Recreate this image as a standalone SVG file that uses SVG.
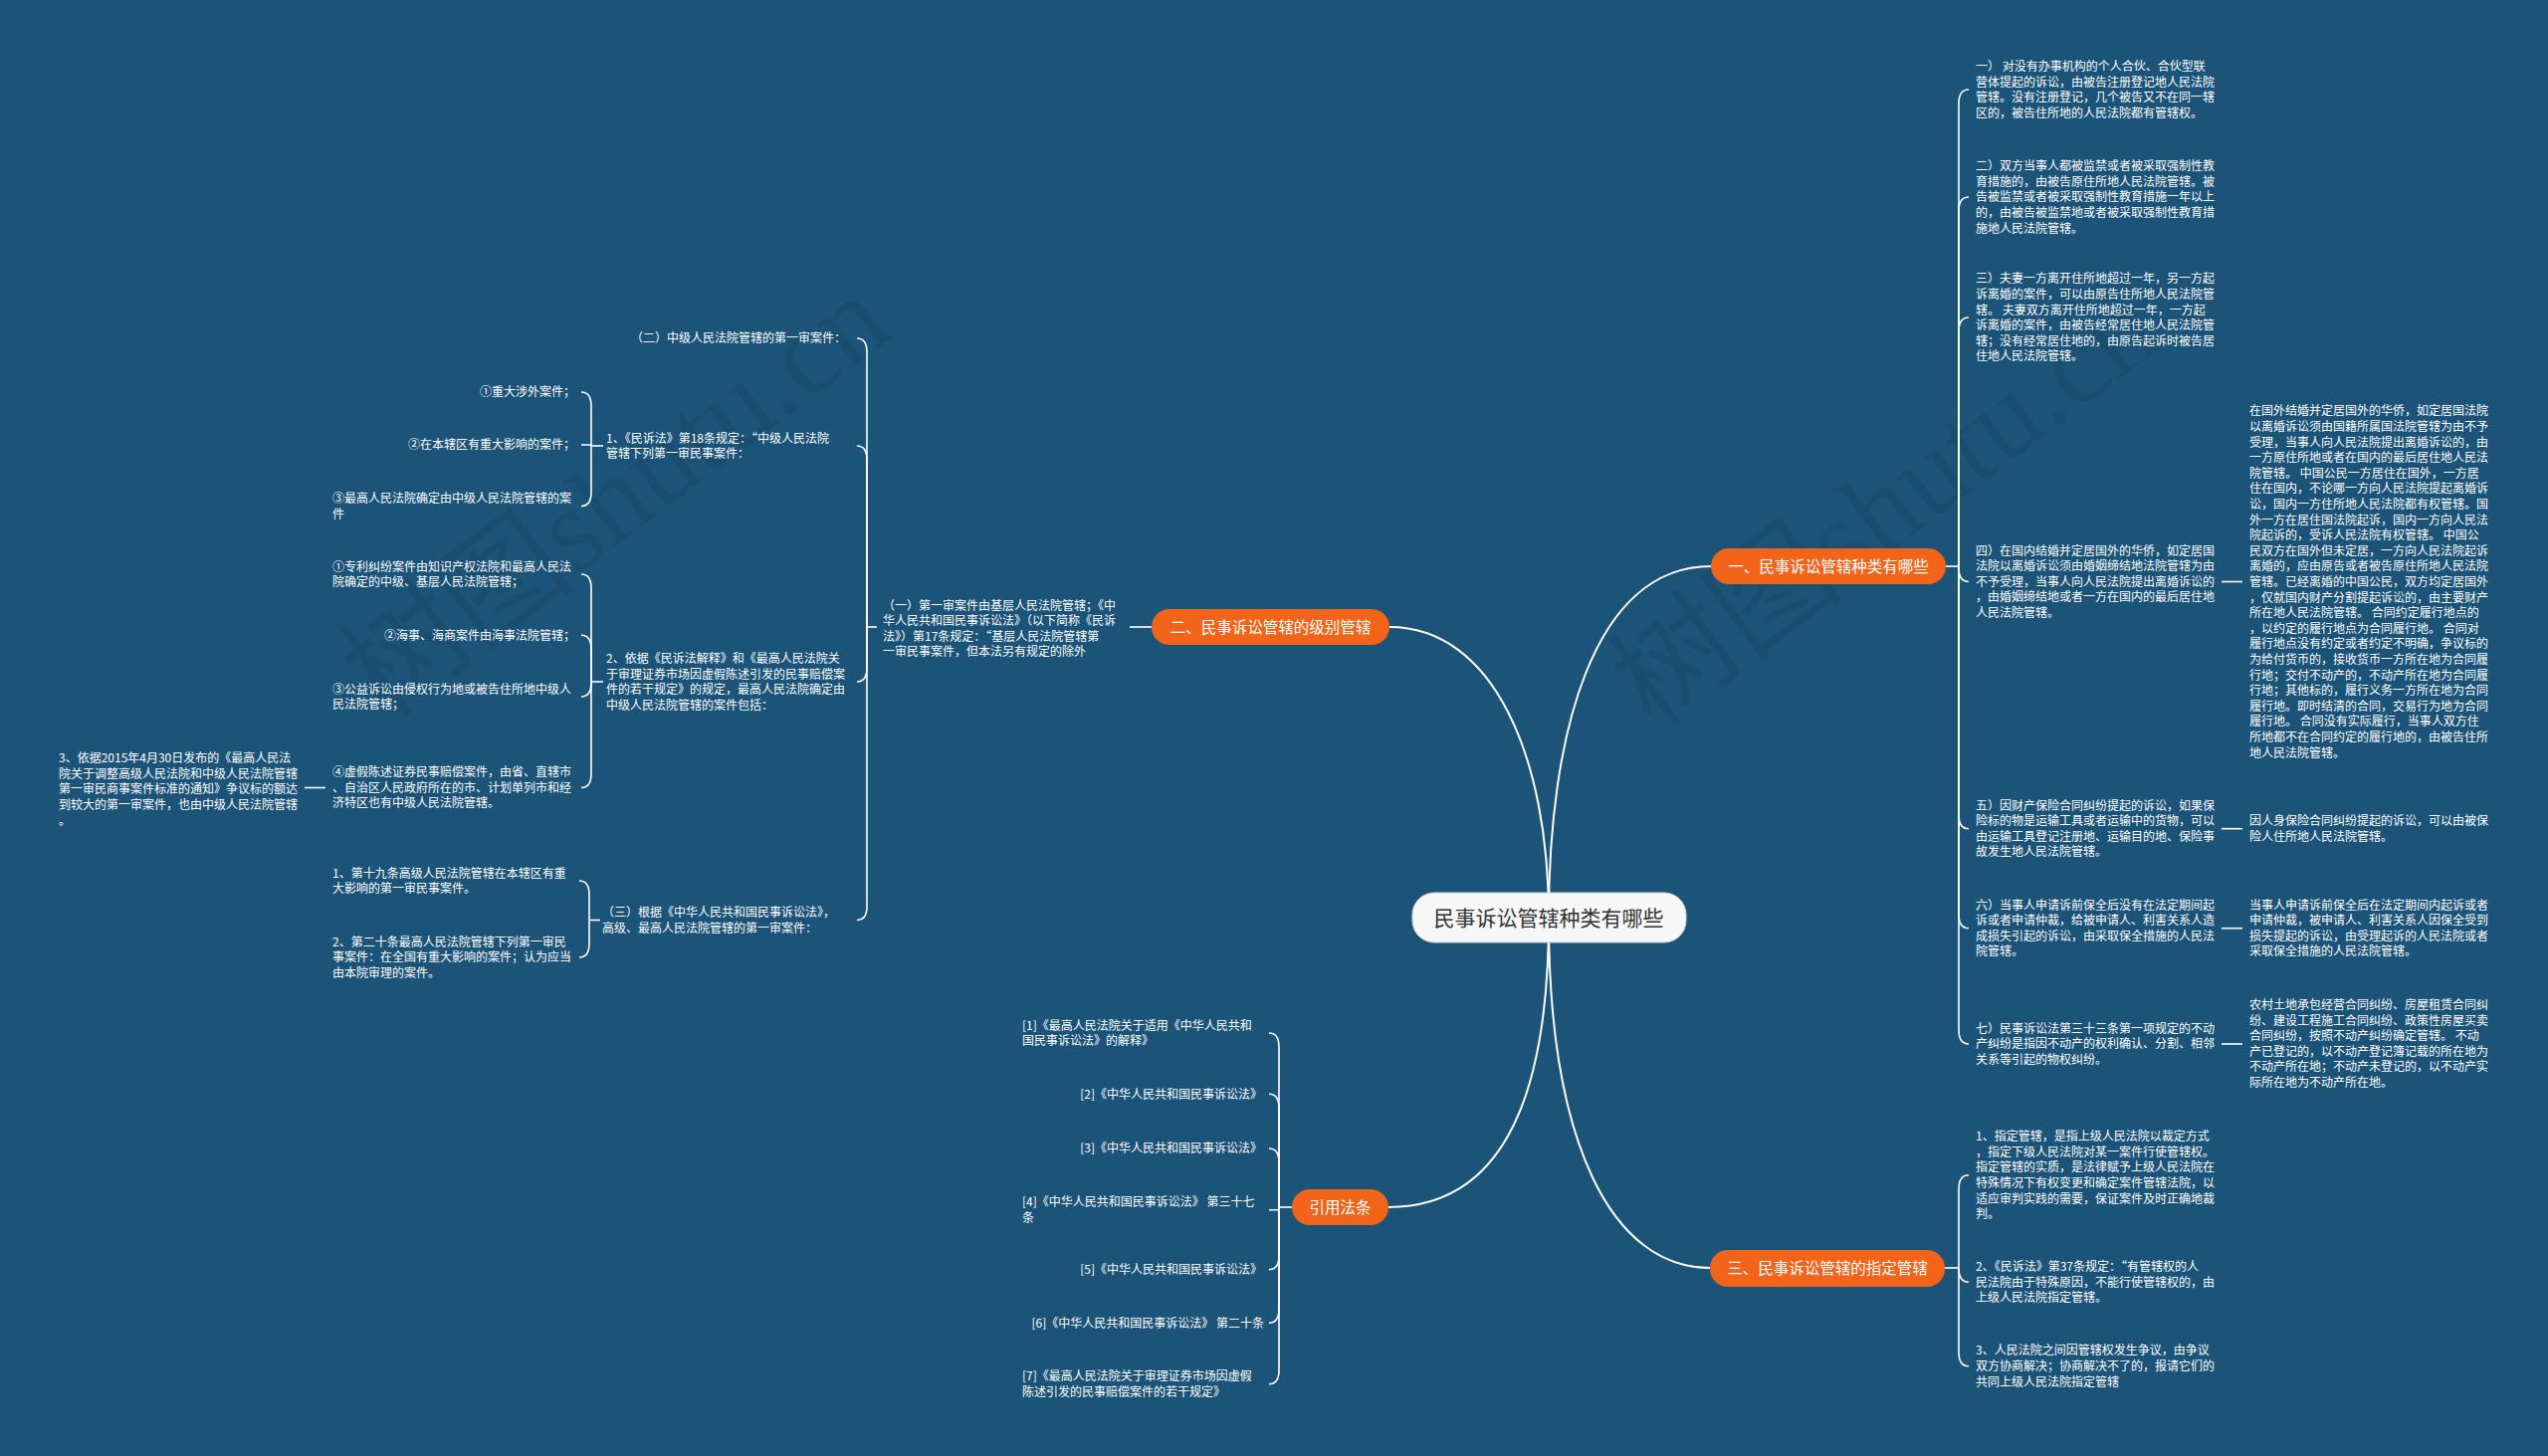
<svg xmlns="http://www.w3.org/2000/svg" width="2560" height="1463" viewBox="0 0 2560 1463">
<style>
.bg{fill:#1c5479}
.t{font-family:"Noto Sans CJK SC","Noto Sans",sans-serif;font-size:12px;fill:#ffffff}
.te{font-family:"Noto Sans CJK SC","Noto Sans",sans-serif;font-size:12px;fill:#ffffff;text-anchor:end}
.nt{font-family:"Noto Sans CJK SC","Noto Sans",sans-serif;font-size:15.5px;fill:#ffffff;text-anchor:middle}
.ct{font-family:"Noto Sans CJK SC","Noto Sans",sans-serif;font-size:21px;fill:#333333;text-anchor:middle}
.on{fill:#f26419}
.cn{fill:#f7f7f7;stroke:#d0d0d0;stroke-width:1}
.main{fill:none;stroke:#ffffff;stroke-width:2}
.br{fill:none;stroke:#ffffff;stroke-width:1.6}
.wm{font-family:"Liberation Serif","Noto Sans CJK SC",serif;font-size:120px;fill:#000000;fill-opacity:0.07}
</style>
<rect class="bg" x="0" y="0" width="2560" height="1463"/>
<g id="watermarks">
<text class="wm" transform="translate(386 724) rotate(-37)">树图shutu.cn</text>
<text class="wm" transform="translate(1661 734) rotate(-37)">树图shutu.cn</text>
</g>
<g id="connectors">
<path class="main" d="M1556 922 C1556 760 1500 630 1396 630"/>
<path class="main" d="M1556 922 C1556 740 1600 569 1719 569"/>
<path class="main" d="M1556 922 C1556 1120 1500 1213 1395 1213"/>
<path class="main" d="M1556 922 C1556 1150 1620 1274 1718 1274"/>
<path class="br" d="M1955 569 H1968"/>
<path class="br" d="M1968 569 V104 Q1968 90 1978 90"/>
<path class="br" d="M1968 569 V212 Q1968 198 1978 198"/>
<path class="br" d="M1968 569 V333 Q1968 319 1978 319"/>
<path class="br" d="M1968 569 V570.5 Q1968 584.5 1978 584.5"/>
<path class="br" d="M1968 569 V818.7 Q1968 832.7 1978 832.7"/>
<path class="br" d="M1968 569 V918.7 Q1968 932.7 1978 932.7"/>
<path class="br" d="M1968 569 V1035 Q1968 1049 1978 1049"/>
<path class="br" d="M2232 584.5 H2253"/>
<path class="br" d="M2232 832.7 H2253"/>
<path class="br" d="M2232 932.7 H2253"/>
<path class="br" d="M2232 1049 H2253"/>
<path class="br" d="M1954 1274 H1968"/>
<path class="br" d="M1968 1274 V1194.8 Q1968 1180.8 1978 1180.8"/>
<path class="br" d="M1968 1274 V1274.3 Q1968 1288.3 1978 1288.3"/>
<path class="br" d="M1968 1274 V1358.7 Q1968 1372.7 1978 1372.7"/>
<path class="br" d="M1135 630 H1157"/>
<path class="br" d="M881 630 H871"/>
<path class="br" d="M871 630 V354 Q871 340 861 340"/>
<path class="br" d="M871 630 V462 Q871 448 861 448"/>
<path class="br" d="M871 630 V671 Q871 685 861 685"/>
<path class="br" d="M871 630 V910.5 Q871 924.5 861 924.5"/>
<path class="br" d="M606 448 H594"/>
<path class="br" d="M594 448 V408 Q594 394 584 394"/>
<path class="br" d="M594 448 V447 H584"/>
<path class="br" d="M594 448 V494.6 Q594 508.6 584 508.6"/>
<path class="br" d="M606 685 H594"/>
<path class="br" d="M594 685 V591 Q594 577 584 577"/>
<path class="br" d="M594 685 V652.3 Q594 638.3 584 638.3"/>
<path class="br" d="M594 685 V686 Q594 700 584 700"/>
<path class="br" d="M594 685 V777.5 Q594 791.5 584 791.5"/>
<path class="br" d="M327 791.5 H306"/>
<path class="br" d="M603 924.5 H592"/>
<path class="br" d="M592 924.5 V899 Q592 885 582 885"/>
<path class="br" d="M592 924.5 V948 Q592 962 582 962"/>
<path class="br" d="M1298 1213 H1285"/>
<path class="br" d="M1285 1213 V1052 Q1285 1038 1275 1038"/>
<path class="br" d="M1285 1213 V1113.3 Q1285 1099.3 1275 1099.3"/>
<path class="br" d="M1285 1213 V1168 Q1285 1154 1275 1154"/>
<path class="br" d="M1285 1213 V1215.8 H1275"/>
<path class="br" d="M1285 1213 V1261.7 Q1285 1275.7 1275 1275.7"/>
<path class="br" d="M1285 1213 V1315.3 Q1285 1329.3 1275 1329.3"/>
<path class="br" d="M1285 1213 V1376.8 Q1285 1390.8 1275 1390.8"/>
</g>
<g id="center">
<rect class="cn" x="1419" y="897" width="275" height="50" rx="22"/>
<text class="ct" x="1556" y="929.5">民事诉讼管辖种类有哪些</text>
</g>
<g id="n1">
<rect class="on" x="1719" y="551" width="236" height="36" rx="18"/>
<text class="nt" x="1837" y="574.5">一、民事诉讼管辖种类有哪些</text>
</g>
<g id="n2">
<rect class="on" x="1157" y="612" width="239" height="36" rx="18"/>
<text class="nt" x="1276.5" y="635.5">二、民事诉讼管辖的级别管辖</text>
</g>
<g id="n3">
<rect class="on" x="1718" y="1256" width="236" height="37" rx="18"/>
<text class="nt" x="1836" y="1280">三、民事诉讼管辖的指定管辖</text>
</g>
<g id="n4">
<rect class="on" x="1298" y="1195" width="97" height="36" rx="18"/>
<text class="nt" x="1346.5" y="1218.5">引用法条</text>
</g>
<g id="n1-1"><text class="t" x="1985" y="71"><tspan x="1985">一） 对没有办事机构的个人合伙、合伙型联</tspan><tspan x="1985" dy="15.6">营体提起的诉讼，由被告注册登记地人民法院</tspan><tspan x="1985" dy="15.6">管辖。没有注册登记，几个被告又不在同一辖</tspan><tspan x="1985" dy="15.6">区的，被告住所地的人民法院都有管辖权。</tspan></text></g>
<g id="n1-2"><text class="t" x="1985" y="171.1"><tspan x="1985">二）双方当事人都被监禁或者被采取强制性教</tspan><tspan x="1985" dy="15.6">育措施的，由被告原住所地人民法院管辖。被</tspan><tspan x="1985" dy="15.6">告被监禁或者被采取强制性教育措施一年以上</tspan><tspan x="1985" dy="15.6">的，由被告被监禁地或者被采取强制性教育措</tspan><tspan x="1985" dy="15.6">施地人民法院管辖。</tspan></text></g>
<g id="n1-3"><text class="t" x="1985" y="284.3"><tspan x="1985">三）夫妻一方离开住所地超过一年，另一方起</tspan><tspan x="1985" dy="15.6">诉离婚的案件，可以由原告住所地人民法院管</tspan><tspan x="1985" dy="15.6">辖。 夫妻双方离开住所地超过一年，一方起</tspan><tspan x="1985" dy="15.6">诉离婚的案件，由被告经常居住地人民法院管</tspan><tspan x="1985" dy="15.6">辖；没有经常居住地的，由原告起诉时被告居</tspan><tspan x="1985" dy="15.6">住地人民法院管辖。</tspan></text></g>
<g id="n1-4"><text class="t" x="1985" y="557.6"><tspan x="1985">四）在国内结婚并定居国外的华侨，如定居国</tspan><tspan x="1985" dy="15.6">法院以离婚诉讼须由婚姻缔结地法院管辖为由</tspan><tspan x="1985" dy="15.6">不予受理，当事人向人民法院提出离婚诉讼的</tspan><tspan x="1985" dy="15.6">，由婚姻缔结地或者一方在国内的最后居住地</tspan><tspan x="1985" dy="15.6">人民法院管辖。</tspan></text></g>
<g id="n1-4-1"><text class="t" x="2260" y="417.4"><tspan x="2260">在国外结婚并定居国外的华侨，如定居国法院</tspan><tspan x="2260" dy="15.6">以离婚诉讼须由国籍所属国法院管辖为由不予</tspan><tspan x="2260" dy="15.6">受理，当事人向人民法院提出离婚诉讼的，由</tspan><tspan x="2260" dy="15.6">一方原住所地或者在国内的最后居住地人民法</tspan><tspan x="2260" dy="15.6">院管辖。 中国公民一方居住在国外，一方居</tspan><tspan x="2260" dy="15.6">住在国内，不论哪一方向人民法院提起离婚诉</tspan><tspan x="2260" dy="15.6">讼，国内一方住所地人民法院都有权管辖。国</tspan><tspan x="2260" dy="15.6">外一方在居住国法院起诉，国内一方向人民法</tspan><tspan x="2260" dy="15.6">院起诉的，受诉人民法院有权管辖。 中国公</tspan><tspan x="2260" dy="15.6">民双方在国外但未定居，一方向人民法院起诉</tspan><tspan x="2260" dy="15.6">离婚的，应由原告或者被告原住所地人民法院</tspan><tspan x="2260" dy="15.6">管辖。已经离婚的中国公民，双方均定居国外</tspan><tspan x="2260" dy="15.6">，仅就国内财产分割提起诉讼的，由主要财产</tspan><tspan x="2260" dy="15.6">所在地人民法院管辖。 合同约定履行地点的</tspan><tspan x="2260" dy="15.6">，以约定的履行地点为合同履行地。 合同对</tspan><tspan x="2260" dy="15.6">履行地点没有约定或者约定不明确，争议标的</tspan><tspan x="2260" dy="15.6">为给付货币的，接收货币一方所在地为合同履</tspan><tspan x="2260" dy="15.6">行地；交付不动产的，不动产所在地为合同履</tspan><tspan x="2260" dy="15.6">行地；其他标的，履行义务一方所在地为合同</tspan><tspan x="2260" dy="15.6">履行地。即时结清的合同，交易行为地为合同</tspan><tspan x="2260" dy="15.6">履行地。 合同没有实际履行，当事人双方住</tspan><tspan x="2260" dy="15.6">所地都不在合同约定的履行地的，由被告住所</tspan><tspan x="2260" dy="15.6">地人民法院管辖。</tspan></text></g>
<g id="n1-5"><text class="t" x="1985" y="813.6"><tspan x="1985">五）因财产保险合同纠纷提起的诉讼，如果保</tspan><tspan x="1985" dy="15.6">险标的物是运输工具或者运输中的货物，可以</tspan><tspan x="1985" dy="15.6">由运输工具登记注册地、运输目的地、保险事</tspan><tspan x="1985" dy="15.6">故发生地人民法院管辖。</tspan></text></g>
<g id="n1-5-1"><text class="t" x="2260" y="829.2"><tspan x="2260">因人身保险合同纠纷提起的诉讼，可以由被保</tspan><tspan x="2260" dy="15.6">险人住所地人民法院管辖。</tspan></text></g>
<g id="n1-6"><text class="t" x="1985" y="913.6"><tspan x="1985">六）当事人申请诉前保全后没有在法定期间起</tspan><tspan x="1985" dy="15.6">诉或者申请仲裁，给被申请人、利害关系人造</tspan><tspan x="1985" dy="15.6">成损失引起的诉讼，由采取保全措施的人民法</tspan><tspan x="1985" dy="15.6">院管辖。</tspan></text></g>
<g id="n1-6-1"><text class="t" x="2260" y="913.6"><tspan x="2260">当事人申请诉前保全后在法定期间内起诉或者</tspan><tspan x="2260" dy="15.6">申请仲裁，被申请人、利害关系人因保全受到</tspan><tspan x="2260" dy="15.6">损失提起的诉讼，由受理起诉的人民法院或者</tspan><tspan x="2260" dy="15.6">采取保全措施的人民法院管辖。</tspan></text></g>
<g id="n1-7"><text class="t" x="1985" y="1037.7"><tspan x="1985">七）民事诉讼法第三十三条第一项规定的不动</tspan><tspan x="1985" dy="15.6">产纠纷是指因不动产的权利确认、分割、相邻</tspan><tspan x="1985" dy="15.6">关系等引起的物权纠纷。</tspan></text></g>
<g id="n1-7-1"><text class="t" x="2260" y="1014"><tspan x="2260">农村土地承包经营合同纠纷、房屋租赁合同纠</tspan><tspan x="2260" dy="15.6">纷、建设工程施工合同纠纷、政策性房屋买卖</tspan><tspan x="2260" dy="15.6">合同纠纷，按照不动产纠纷确定管辖。 不动</tspan><tspan x="2260" dy="15.6">产已登记的，以不动产登记簿记载的所在地为</tspan><tspan x="2260" dy="15.6">不动产所在地；不动产未登记的，以不动产实</tspan><tspan x="2260" dy="15.6">际所在地为不动产所在地。</tspan></text></g>
<g id="n3-1"><text class="t" x="1985" y="1146.1"><tspan x="1985">1、指定管辖，是指上级人民法院以裁定方式</tspan><tspan x="1985" dy="15.6">，指定下级人民法院对某一案件行使管辖权。</tspan><tspan x="1985" dy="15.6">指定管辖的实质，是法律赋予上级人民法院在</tspan><tspan x="1985" dy="15.6">特殊情况下有权变更和确定案件管辖法院，以</tspan><tspan x="1985" dy="15.6">适应审判实践的需要，保证案件及时正确地裁</tspan><tspan x="1985" dy="15.6">判。</tspan></text></g>
<g id="n3-2"><text class="t" x="1985" y="1277"><tspan x="1985">2、《民诉法》第37条规定：“有管辖权的人</tspan><tspan x="1985" dy="15.6">民法院由于特殊原因，不能行使管辖权的，由</tspan><tspan x="1985" dy="15.6">上级人民法院指定管辖。</tspan></text></g>
<g id="n3-3"><text class="t" x="1985" y="1361.4"><tspan x="1985">3、人民法院之间因管辖权发生争议，由争议</tspan><tspan x="1985" dy="15.6">双方协商解决；协商解决不了的，报请它们的</tspan><tspan x="1985" dy="15.6">共同上级人民法院指定管辖</tspan></text></g>
<g id="n2-1"><text class="t" x="887" y="612.5"><tspan x="887">（一）第一审案件由基层人民法院管辖；《中</tspan><tspan x="887" dy="15.6">华人民共和国民事诉讼法》（以下简称《民诉</tspan><tspan x="887" dy="15.6">法》）第17条规定：“基层人民法院管辖第</tspan><tspan x="887" dy="15.6">一审民事案件，但本法另有规定的除外</tspan></text></g>
<g id="n2-1-1"><text class="t" x="634" y="344.3">（二）中级人民法院管辖的第一审案件：</text></g>
<g id="n2-1-2"><text class="t" x="609" y="444.5"><tspan x="609">1、《民诉法》第18条规定：“中级人民法院</tspan><tspan x="609" dy="15.6">管辖下列第一审民事案件：</tspan></text></g>
<g id="n2-1-2-1"><text class="te" x="578" y="398.3">①重大涉外案件；</text></g>
<g id="n2-1-2-2"><text class="te" x="578" y="451.3">②在本辖区有重大影响的案件；</text></g>
<g id="n2-1-2-3"><text class="t" x="334" y="505.1"><tspan x="334">③最高人民法院确定由中级人民法院管辖的案</tspan><tspan x="334" dy="15.6">件</tspan></text></g>
<g id="n2-1-3"><text class="t" x="609" y="665.9"><tspan x="609">2、依据《民诉法解释》和《最高人民法院关</tspan><tspan x="609" dy="15.6">于审理证券市场因虚假陈述引发的民事赔偿案</tspan><tspan x="609" dy="15.6">件的若干规定》的规定，最高人民法院确定由</tspan><tspan x="609" dy="15.6">中级人民法院管辖的案件包括：</tspan></text></g>
<g id="n2-1-3-1"><text class="t" x="334" y="573.5"><tspan x="334">①专利纠纷案件由知识产权法院和最高人民法</tspan><tspan x="334" dy="15.6">院确定的中级、基层人民法院管辖；</tspan></text></g>
<g id="n2-1-3-2"><text class="te" x="578" y="642.6">②海事、海商案件由海事法院管辖；</text></g>
<g id="n2-1-3-3"><text class="t" x="334" y="696.5"><tspan x="334">③公益诉讼由侵权行为地或被告住所地中级人</tspan><tspan x="334" dy="15.6">民法院管辖；</tspan></text></g>
<g id="n2-1-3-4"><text class="t" x="334" y="780.2"><tspan x="334">④虚假陈述证券民事赔偿案件，由省、直辖市</tspan><tspan x="334" dy="15.6">、自治区人民政府所在的市、计划单列市和经</tspan><tspan x="334" dy="15.6">济特区也有中级人民法院管辖。</tspan></text></g>
<g id="n2-1-3-4-1"><text class="t" x="59" y="766.1"><tspan x="59">3、依据2015年4月30日发布的《最高人民法</tspan><tspan x="59" dy="15.6">院关于调整高级人民法院和中级人民法院管辖</tspan><tspan x="59" dy="15.6">第一审民商事案件标准的通知》争议标的额达</tspan><tspan x="59" dy="15.6">到较大的第一审案件，也由中级人民法院管辖</tspan><tspan x="59" dy="15.6">。</tspan></text></g>
<g id="n2-1-4"><text class="t" x="605" y="921"><tspan x="605">（三）根据《中华人民共和国民事诉讼法》，</tspan><tspan x="605" dy="15.6">高级、最高人民法院管辖的第一审案件：</tspan></text></g>
<g id="n2-1-4-1"><text class="t" x="334" y="881.5"><tspan x="334">1、第十九条高级人民法院管辖在本辖区有重</tspan><tspan x="334" dy="15.6">大影响的第一审民事案件。</tspan></text></g>
<g id="n2-1-4-2"><text class="t" x="334" y="950.7"><tspan x="334">2、第二十条最高人民法院管辖下列第一审民</tspan><tspan x="334" dy="15.6">事案件：在全国有重大影响的案件；认为应当</tspan><tspan x="334" dy="15.6">由本院审理的案件。</tspan></text></g>
<g id="n4-1"><text class="t" x="1027" y="1034.5"><tspan x="1027">[1]《最高人民法院关于适用《中华人民共和</tspan><tspan x="1027" dy="15.6">国民事诉讼法》的解释》</tspan></text></g>
<g id="n4-2"><text class="te" x="1268" y="1103.6">[2]《中华人民共和国民事诉讼法》</text></g>
<g id="n4-3"><text class="te" x="1268" y="1158.3">[3]《中华人民共和国民事诉讼法》</text></g>
<g id="n4-4"><text class="t" x="1027" y="1212.3"><tspan x="1027">[4]《中华人民共和国民事诉讼法》 第三十七</tspan><tspan x="1027" dy="15.6">条</tspan></text></g>
<g id="n4-5"><text class="te" x="1268" y="1280">[5]《中华人民共和国民事诉讼法》</text></g>
<g id="n4-6"><text class="te" x="1270" y="1333.6">[6]《中华人民共和国民事诉讼法》 第二十条</text></g>
<g id="n4-7"><text class="t" x="1027" y="1387.3"><tspan x="1027">[7]《最高人民法院关于审理证券市场因虚假</tspan><tspan x="1027" dy="15.6">陈述引发的民事赔偿案件的若干规定》</tspan></text></g>
</svg>
